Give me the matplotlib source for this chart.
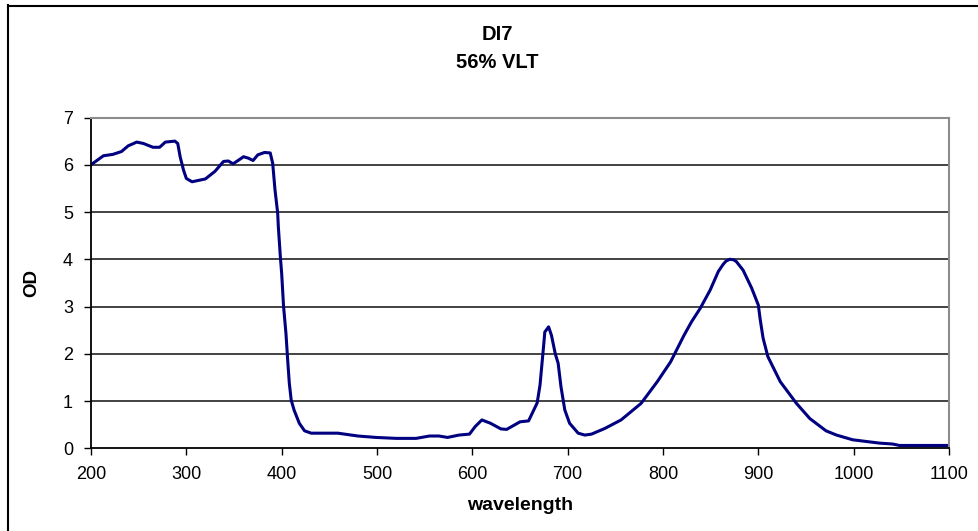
import matplotlib.pyplot as plt
from matplotlib.lines import Line2D

# Dane
wavelength = [200, 213, 223, 232, 239, 248, 255, 265, 272, 278, 288, 291, 293.5, 297, 300,
              306, 320, 330, 339, 344, 349, 355, 360, 365, 370, 375, 382, 388, 390.6, 393,
              395.8, 396.5, 398.6, 400, 402, 404.5, 406.3, 408, 410, 413, 418.5, 424, 431,
              459, 480, 499, 520, 541, 555, 565, 574, 586, 597, 603, 610, 619, 630, 636,
              643, 650, 659, 668, 671, 675, 676, 680, 683, 687, 690, 693, 697, 702, 711,
              718, 725, 739, 756, 777, 794, 808, 822, 830, 839, 849.5, 858, 863, 866, 870,
              874, 877, 884, 893, 900, 902, 905, 910, 923, 940, 954, 971, 982, 999, 1027,
              1041, 1048, 1100]
od = [6.0, 6.19, 6.22, 6.28, 6.40, 6.48, 6.45, 6.37, 6.37, 6.48, 6.50, 6.45, 6.17, 5.89, 5.71,
      5.64, 5.70, 5.86, 6.07, 6.08, 6.02, 6.10, 6.17, 6.14, 6.09, 6.21, 6.26, 6.25, 6.03, 5.47,
      4.98, 4.69, 4.06, 3.70, 3.0, 2.43, 1.87, 1.38, 1.02, 0.81, 0.53, 0.37, 0.32,
      0.32, 0.26, 0.23, 0.21, 0.21, 0.26, 0.26, 0.23, 0.28, 0.30, 0.46, 0.60, 0.53, 0.41, 0.40,
      0.48, 0.56, 0.58, 0.96, 1.34, 2.22, 2.46, 2.57, 2.39, 2.0, 1.8, 1.30, 0.81, 0.53, 0.32,
      0.28, 0.30, 0.42, 0.60, 0.95, 1.41, 1.83, 2.39, 2.68, 2.96, 3.35, 3.74, 3.89, 3.96, 4.0,
      3.99, 3.95, 3.77, 3.39, 3.03, 2.72, 2.33, 1.94, 1.41, 0.95, 0.63, 0.37, 0.28, 0.18, 0.11,
      0.09, 0.06, 0.06]

x_ticks = [200, 300, 400, 500, 600, 700, 800, 900, 1000, 1100]
y_ticks = [0, 1, 2, 3, 4, 5, 6, 7]

plt.rcParams["font.family"] = ["Liberation Sans", "DejaVu Sans"]

W, H = 979, 531
fig = plt.figure(figsize=(W / 100, H / 100), dpi=100)
ax = fig.add_axes([91 / W, (H - 448.3) / H, (949 - 91) / W, (448.3 - 117.5) / H])

ax.plot(wavelength, od, color="#000080", linewidth=2.2, solid_joinstyle="round")

ax.set_xlim(200, 1100)
ax.set_ylim(0, 7)
ax.set_xticks(x_ticks)
ax.set_yticks(y_ticks)
ax.tick_params(axis="both", direction="out", length=5, width=1, labelsize=13, color="black")
ax.tick_params(axis="x", pad=8)
ax.tick_params(axis="y", pad=8)

# Siatka pozioma
for v in y_ticks[1:-1]:
    ax.axhline(v, color="#222222", linewidth=1.2, zorder=0)

ax.spines["left"].set_color("black")
ax.spines["bottom"].set_color("black")
ax.spines["left"].set_linewidth(1.3)
ax.spines["bottom"].set_linewidth(1.3)
ax.spines["top"].set_color("#8c8c8c")
ax.spines["right"].set_color("#8c8c8c")
ax.spines["top"].set_linewidth(1.5)
ax.spines["right"].set_linewidth(1.5)

ax.set_xlabel("wavelength", fontsize=14, fontweight="bold", labelpad=10)
ax.set_ylabel("OD", fontsize=13.5, fontweight="bold", labelpad=16)

fig.text(497 / W, 1 - 35 / H, "DI7", ha="center", va="center", fontsize=14.5, fontweight="bold")
fig.text(497 / W, 1 - 63 / H, "56% VLT", ha="center", va="center", fontsize=14.5, fontweight="bold")

# Ramka wykresu
fig.add_artist(Line2D([8.5 / W, 8.5 / W], [0, 1 - 5 / H], color="black", linewidth=1.5))
fig.add_artist(Line2D([8 / W, 1], [1 - 5.5 / H, 1 - 5.5 / H], color="black", linewidth=1.5))

fig.savefig("out.png", dpi=100)
